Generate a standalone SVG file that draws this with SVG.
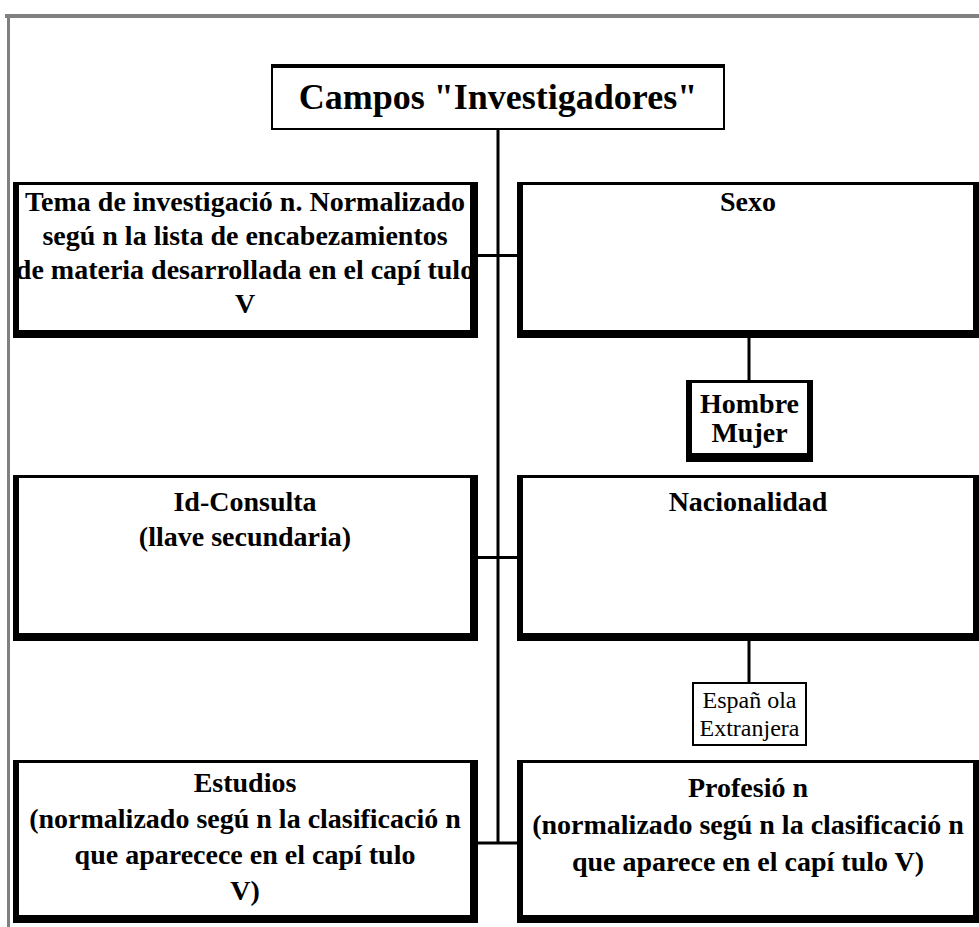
<svg xmlns="http://www.w3.org/2000/svg" width="979" height="927" viewBox="0 0 979 927">
<style>
.frame{stroke:#808080;fill:none}
.sh{fill:#000}
.in{fill:#fff}
.c{stroke:#000;stroke-width:3;fill:none}
.t{font-family:"Liberation Serif","DejaVu Serif",serif;font-weight:bold;font-size:28px;fill:#000;text-anchor:middle}
.r{font-family:"Liberation Serif","DejaVu Serif",serif;font-size:24px;fill:#000;text-anchor:middle}
</style>
<rect width="979" height="927" fill="#fff"/>
<g id="frame">
<line class="frame" x1="5" y1="16" x2="979" y2="16" stroke-width="4"/>
<line class="frame" x1="8.5" y1="14" x2="8.5" y2="927" stroke-width="3"/>
</g>
<g id="connectors">
<line class="c" x1="498" y1="130" x2="498" y2="844"/>
<line class="c" x1="478" y1="255.5" x2="517" y2="255.5"/>
<line class="c" x1="478" y1="557.5" x2="517" y2="557.5"/>
<line class="c" x1="478" y1="843" x2="517" y2="843"/>
<line class="c" x1="749" y1="338" x2="749" y2="380"/>
<line class="c" x1="749" y1="641" x2="749" y2="683"/>
</g>
<g id="title">
<rect class="sh" x="271" y="64" width="454" height="66"/>
<rect class="in" x="273" y="68" width="450" height="60"/>
<text class="t" x="498" y="109" style="font-size:36px">Campos "Investigadores"</text>
</g>
<g id="tema">
<rect class="sh" x="13" y="182" width="465" height="156"/>
<rect class="in" x="19" y="185" width="451" height="145"/>
<text class="t" x="245" y="211">Tema de investigació n. Normalizado</text>
<text class="t" x="245" y="245">segú n la lista de encabezamientos</text>
<text class="t" x="245" y="279">de materia desarrollada en el capí tulo</text>
<text class="t" x="245" y="313">V</text>
</g>
<g id="sexo">
<rect class="sh" x="517" y="182" width="462" height="156"/>
<rect class="in" x="523" y="185" width="450" height="145"/>
<text class="t" x="748" y="211">Sexo</text>
</g>
<g id="hombre">
<rect class="sh" x="686" y="380" width="127" height="82"/>
<rect class="in" x="692" y="383" width="115" height="70"/>
<text class="t" x="749.5" y="413">Hombre</text>
<text class="t" x="749.5" y="442">Mujer</text>
</g>
<g id="idconsulta">
<rect class="sh" x="13" y="475" width="465" height="166"/>
<rect class="in" x="19" y="478" width="451" height="155"/>
<text class="t" x="245" y="511">Id-Consulta</text>
<text class="t" x="245" y="546">(llave secundaria)</text>
</g>
<g id="nacionalidad">
<rect class="sh" x="517" y="475" width="462" height="166"/>
<rect class="in" x="523" y="478" width="450" height="155"/>
<text class="t" x="748" y="511">Nacionalidad</text>
</g>
<g id="espanola">
<rect x="693" y="683" width="113" height="62" fill="#fff" stroke="#000" stroke-width="2"/>
<text class="r" x="749.5" y="708">Españ ola</text>
<text class="r" x="749.5" y="736">Extranjera</text>
</g>
<g id="estudios">
<rect class="sh" x="13" y="760" width="465" height="163"/>
<rect class="in" x="19" y="763" width="451" height="152"/>
<text class="t" x="245" y="792">Estudios</text>
<text class="t" x="245" y="828">(normalizado segú n la clasificació n</text>
<text class="t" x="245" y="864">que aparecece en el capí tulo</text>
<text class="t" x="245" y="900">V)</text>
</g>
<g id="profesion">
<rect class="sh" x="517" y="760" width="462" height="163"/>
<rect class="in" x="523" y="763" width="450" height="152"/>
<text class="t" x="748" y="797">Profesió n</text>
<text class="t" x="748" y="834">(normalizado segú n la clasificació n</text>
<text class="t" x="748" y="871">que aparece en el capí tulo V)</text>
</g>
</svg>
